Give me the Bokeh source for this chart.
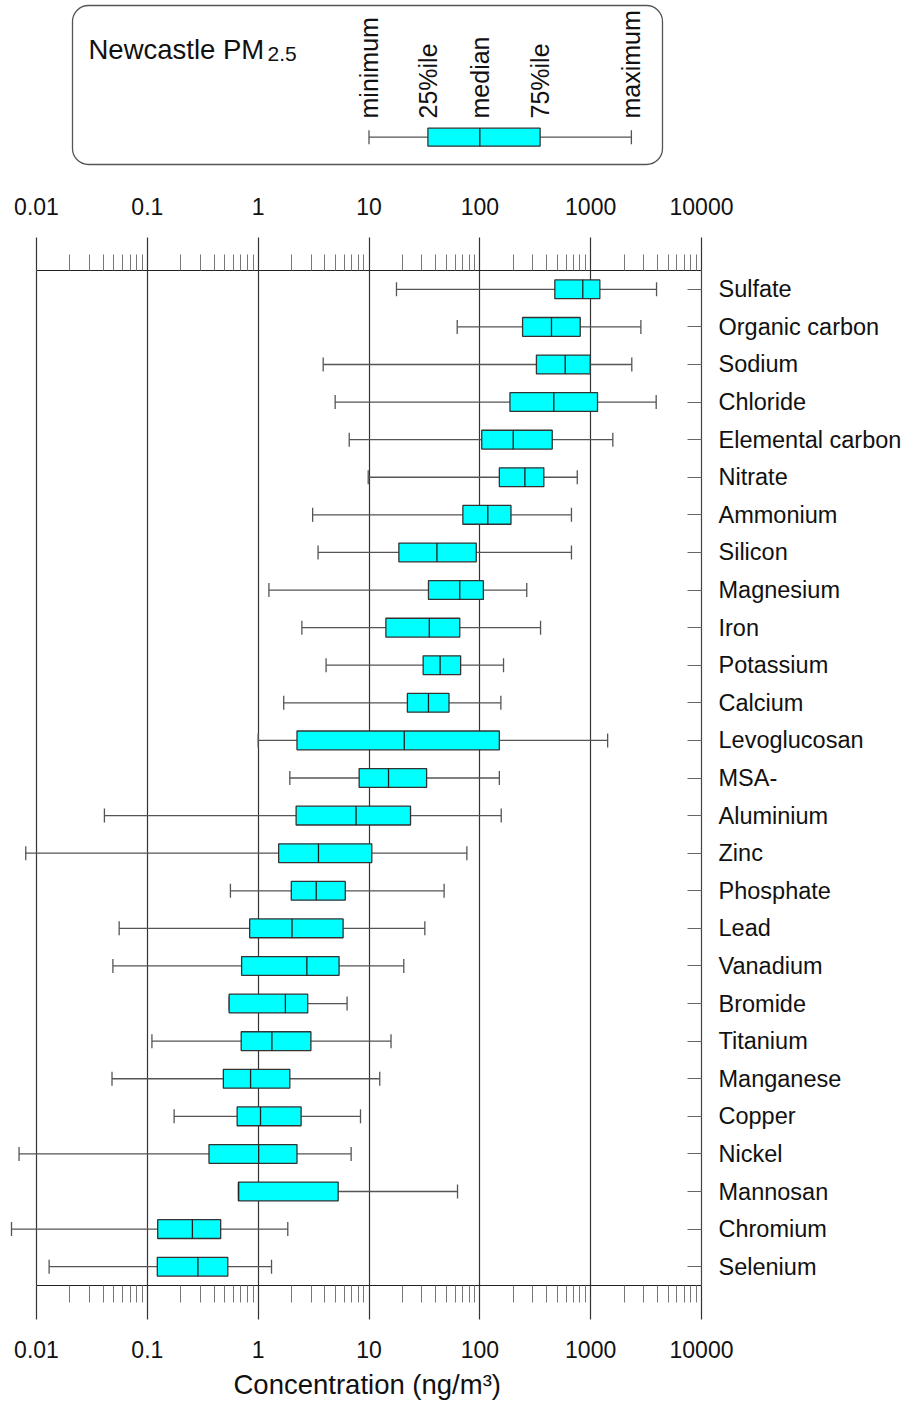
import math
from bokeh.plotting import figure
from bokeh.models import (Range1d, FactorRange, LogAxis, CategoricalAxis, FixedTicker,
                          Grid, CustomJSTickFormatter, ColumnDataSource, LinearScale, Title)
from bokeh.layouts import column
from bokeh.embed import file_html
from bokeh.resources import INLINE
from bokeh.core.properties import value

# ---------------- data (ng/m3) ----------------
species = ["Sulfate", "Organic carbon", "Sodium", "Chloride", "Elemental carbon",
           "Nitrate", "Ammonium", "Silicon", "Magnesium", "Iron", "Potassium",
           "Calcium", "Levoglucosan", "MSA-", "Aluminium", "Zinc", "Phosphate",
           "Lead", "Vanadium", "Bromide", "Titanium", "Manganese", "Copper",
           "Nickel", "Mannosan", "Chromium", "Selenium"]
minimum = [17.7, 62.5, 3.86, 4.95, 6.63, 9.84, 3.10, 3.47, 1.25, 2.48, 4.10, 1.70,
           1.0, 1.93, 0.041, 0.0080, 0.562, 0.0557, 0.0489, 0.547, 0.110, 0.048,
           0.1745, 0.00696, 0.665, 0.00595, 0.0130]
q25 = [475, 243, 324, 187, 104, 150, 70.3, 18.6, 34.4, 14.2, 30.8, 22.2,
       2.24, 8.15, 2.20, 1.53, 1.99, 0.838, 0.709, 0.547, 0.703, 0.485,
       0.646, 0.360, 0.665, 0.124, 0.123]
median = [849, 443, 589, 465, 200, 255, 118, 41.0, 65.9, 35.0, 43.8, 34.4,
          20.8, 15.0, 7.64, 3.50, 3.34, 2.02, 2.75, 1.76, 1.33, 0.854,
          1.05, 1.01, 0.665, 0.255, 0.286]
q75 = [1210, 805, 991, 1153, 450, 378, 191, 92.8, 107.6, 65.9, 67.1, 52.7,
       150, 33.1, 23.7, 10.6, 6.11, 5.84, 5.37, 2.80, 2.99, 1.93,
       2.44, 2.24, 5.27, 0.459, 0.532]
maximum = [3930, 2838, 2350, 3900, 1585, 757, 671, 671, 265, 353, 163.6, 154.8,
           1423, 150, 156, 76.4, 47.6, 31.9, 20.6, 6.34, 15.8, 12.5,
           8.38, 6.90, 62.9, 1.85, 1.32]

decade_ticks = [0.01, 0.1, 1, 10, 100, 1000, 10000]
legend_labels = ["minimum", "25%ile", "median", "75%ile", "maximum"]
legend_values = [10, 34, 100, 350, 2330]
title_main = "Newcastle PM"
title_sub = "2.5"
x_label = "Concentration (ng/m\u00b3)"

# ---------------- style / layout ----------------
FONT = "Liberation Sans"
DEC = 665 / 6.0                      # pixels per decade
X_START = 0.01 * 10 ** (-36 / DEC)   # frame starts 36 px left of 0.01
X_END = 10000
TXT = "#111111"
WH = "#555555"

minor = [m * 10 ** k for k in range(-2, 4) for m in range(2, 10)]
ticker = FixedTicker(ticks=decade_ticks, minor_ticks=minor)
fmt = CustomJSTickFormatter(code="return String(tick)")


def bare(fig):
    fig.xgrid.visible = False
    fig.ygrid.visible = False
    fig.outline_line_color = None
    fig.background_fill_color = "white"
    fig.border_fill_color = "white"


# ---------------- main figure ----------------
p = figure(frame_width=701, frame_height=1015,
           min_border_left=0, min_border_right=202, min_border_top=90, min_border_bottom=121,
           x_axis_type="log", x_range=Range1d(X_START, X_END),
           y_range=FactorRange(factors=species[::-1], range_padding=0),
           x_axis_location=None, y_axis_location=None,
           toolbar_location=None, output_backend="svg")
bare(p)

for loc, t_out, m_out, stand in (("above", 33, 16, 23), ("below", 34, 17, 21)):
    ax = LogAxis(ticker=ticker, formatter=fmt, bounds=(0.01, 10000))
    ax.major_tick_out = t_out
    ax.major_tick_in = 0
    ax.minor_tick_out = m_out
    ax.minor_tick_in = 0
    ax.axis_line_color = "#222222"
    ax.axis_line_width = 1.2
    ax.major_tick_line_color = "#333333"
    ax.major_tick_line_width = 1.2
    ax.minor_tick_line_color = "#777777"
    ax.minor_tick_line_width = 1
    ax.major_label_text_font = FONT
    ax.major_label_text_font_size = "23px"
    ax.major_label_text_color = TXT
    ax.major_label_standoff = stand
    p.add_layout(ax, loc)

# x-axis title, centred under the 0.01 .. 10000 span
p.add_layout(Title(text=x_label, align="left", offset=233, standoff=12,
                   text_font=FONT, text_font_size="27.5px", text_font_style="normal",
                   text_color=TXT), "below")

p.add_layout(Grid(dimension=0, ticker=ticker, grid_line_color="#333333",
                  grid_line_width=1.2), "center")

ra = CategoricalAxis()
ra.major_tick_in = 14
ra.major_tick_out = 0
ra.major_tick_line_color = "#666666"
ra.major_tick_line_width = 1.2
ra.axis_line_color = "#444444"
ra.axis_line_width = 1.2
ra.major_label_standoff = 17
ra.major_label_text_font = FONT
ra.major_label_text_font_size = "23.5px"
ra.major_label_text_color = TXT
p.add_layout(ra, "right")

src = ColumnDataSource(dict(species=species, lo=minimum, q1=q25, med=median,
                            q3=q75, hi=maximum))
p.segment(x0="lo", x1="hi", y0="species", y1="species", source=src,
          line_color=WH, line_width=1.3)
p.scatter(x="lo", y="species", marker="dash", size=14, angle=math.pi / 2,
          line_color=WH, line_width=1.3, source=src)
p.scatter(x="hi", y="species", marker="dash", size=14, angle=math.pi / 2,
          line_color=WH, line_width=1.3, source=src)
p.hbar(y="species", left="q1", right="q3", height=0.5, source=src,
       fill_color="#00FFFF", line_color="#333333", line_width=1.3)
p.scatter(x="med", y="species", marker="dash", size=19, angle=math.pi / 2,
          line_color="#222222", line_width=1.3, source=src)

# ---------------- legend figure (same horizontal mapping as main) ----------------
lf = figure(frame_width=701, frame_height=180,
            min_border_left=0, min_border_right=202, min_border_top=0, min_border_bottom=0,
            x_axis_type="log", x_range=Range1d(X_START, X_END),
            y_range=Range1d(0, 180),
            x_axis_location=None, y_axis_location=None,
            toolbar_location=None, output_backend="svg")
bare(lf)
lf.extra_x_ranges = {"px": Range1d(0, 701)}
lf.extra_x_scales = {"px": LinearScale()}

lf.quad(left=[72], right=[662], bottom=[16], top=[175], x_range_name="px",
        fill_color=None, line_color="#555555", line_width=1.3, border_radius=16)

lf.text(x=[88], y=[131.5], text=[title_main], x_range_name="px",
        text_font=value(FONT), text_font_size="27.5px", text_color=TXT,
        text_baseline="alphabetic", text_align="left")
lf.text(x=[267], y=[126.5], text=[title_sub], x_range_name="px",
        text_font=value(FONT), text_font_size="21px", text_color=TXT,
        text_baseline="alphabetic", text_align="left")
lf.text(x=legend_values, y=[62] * 5, text=legend_labels, angle=math.pi / 2,
        text_font=value(FONT), text_font_size="25px", text_color=TXT,
        text_baseline="middle", text_align="left")

LY = 43.3
lf.segment(x0=[legend_values[0]], x1=[legend_values[4]], y0=[LY], y1=[LY],
           line_color=WH, line_width=1.3)
lf.scatter(x=[legend_values[0], legend_values[4]], y=[LY, LY], marker="dash", size=14,
           angle=math.pi / 2, line_color=WH, line_width=1.3)
lf.hbar(y=[LY], left=[legend_values[1]], right=[legend_values[3]], height=18,
        fill_color="#00FFFF", line_color="#333333", line_width=1.3)
lf.scatter(x=[legend_values[2]], y=[LY], marker="dash", size=18, angle=math.pi / 2,
           line_color="#222222", line_width=1.3)

layout = column(lf, p, spacing=0)
open("out.html", "w").write(file_html(layout, INLINE))
